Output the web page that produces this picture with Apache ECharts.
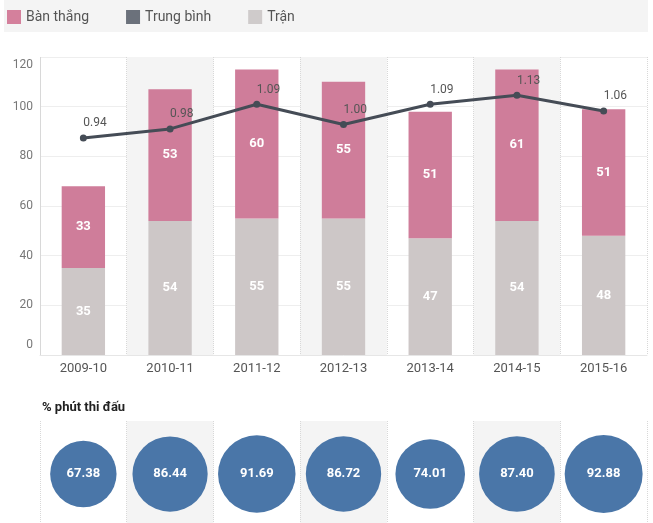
<!DOCTYPE html>
<html>
<head>
<meta charset="utf-8">
<script src="https://cdn.jsdelivr.net/npm/echarts@6/dist/echarts.min.js"></script>
<style>
html,body{margin:0;padding:0;background:#fff;}
#c{width:653px;height:523px;}
</style>
</head>
<body>
<div id="c"></div>
<script>
const seasons = ['2009-10','2010-11','2011-12','2012-13','2013-14','2014-15','2015-16'];
const goals = [33, 53, 60, 55, 51, 61, 51];
const matches = [35, 54, 55, 55, 47, 54, 48];
const average = [0.94, 0.98, 1.09, 1.00, 1.09, 1.13, 1.06];
const minutesPct = [67.38, 86.44, 91.69, 86.72, 74.01, 87.40, 92.88];
const yTicks = [0, 20, 40, 60, 80, 100, 120];

const FONT = 'Roboto, "Noto Sans", sans-serif';
const chart = echarts.init(document.getElementById('c'), null, {renderer: 'canvas'});

const splitAreaX = {show: true, areaStyle: {color: ['rgba(255,255,255,0)', '#f4f4f4']}};
const splitLineX = {show: true, lineStyle: {color: '#d8d8d8', type: 'dotted', width: 1}};

chart.setOption({
  animation: false,
  textStyle: {fontFamily: FONT},
  graphic: [{
    type: 'rect', left: 4, top: 0, z: -10,
    shape: {width: 644, height: 32},
    style: {fill: '#f4f4f4'}
  }],
  title: {
    text: '% phút thi đấu', left: 37, top: 396,
    textStyle: {fontSize: 13, fontWeight: 'bold', color: '#222', fontFamily: FONT}
  },
  legend: {
    left: 7, top: 10, padding: 0, itemWidth: 14, itemHeight: 14, itemGap: 37,
    icon: 'rect',
    textStyle: {fontSize: 14, color: '#555', fontFamily: FONT},
    data: [
      {name: 'Bàn thắng', itemStyle: {color: '#d4809c'}},
      {name: 'Trung bình', itemStyle: {color: '#6b717b'}},
      {name: 'Trận', itemStyle: {color: '#cfcbcb'}}
    ],
    selectedMode: false
  },
  grid: [
    {left: 40, right: 6, top: 57, bottom: 168},
    {left: 40, right: 6, top: 421, bottom: 0}
  ],
  xAxis: [
    {
      type: 'category', gridIndex: 0, data: seasons,
      axisLine: {lineStyle: {color: '#e6e6e6'}},
      axisTick: {show: false},
      axisLabel: {color: '#555', fontSize: 13, margin: 7, fontFamily: FONT},
      splitArea: splitAreaX, splitLine: splitLineX
    },
    {
      type: 'category', gridIndex: 1, data: seasons, position: 'top',
      axisLine: {lineStyle: {color: '#cccccc'}},
      axisTick: {show: false},
      axisLabel: {show: false},
      splitArea: splitAreaX, splitLine: splitLineX
    }
  ],
  yAxis: [
    {
      type: 'value', gridIndex: 0, min: 0, max: 120, interval: 20,
      axisLine: {show: true, lineStyle: {color: '#d8d8d8', type: 'dotted'}},
      axisTick: {show: false},
      splitLine: {lineStyle: {color: '#eeeeee'}},
      axisLabel: {
        color: '#777', fontSize: 12, margin: 7, fontFamily: FONT,
        formatter: function (v) {
          if (v === yTicks[yTicks.length - 1]) return '{b|' + v + '}';
          if (v === yTicks[0]) return '{t|' + v + '}';
          return v;
        },
        rich: {
          b: {padding: [16, 0, 0, 0], color: '#777', fontSize: 12},
          t: {padding: [0, 0, 20, 0], color: '#777', fontSize: 12}
        }
      }
    },
    {
      type: 'value', gridIndex: 0, min: -0.026, max: 1.30, show: false,
      splitLine: {show: false}
    },
    {
      type: 'value', gridIndex: 1, min: 0, max: 1, show: false,
      splitLine: {show: false}
    }
  ],
  series: [
    {
      name: 'Trận', type: 'bar', stack: 'total', xAxisIndex: 0, yAxisIndex: 0,
      data: matches, barWidth: '50%',
      itemStyle: {color: '#cdc7c7'},
      label: {show: true, position: 'inside', color: '#fff', fontWeight: 'bold', fontSize: 13, fontFamily: FONT}
    },
    {
      name: 'Bàn thắng', type: 'bar', stack: 'total', xAxisIndex: 0, yAxisIndex: 0,
      data: goals, barWidth: '50%',
      itemStyle: {color: '#cf7d9a'},
      label: {show: true, position: 'inside', color: '#fff', fontWeight: 'bold', fontSize: 13, fontFamily: FONT}
    },
    {
      name: 'Trung bình', type: 'line', xAxisIndex: 0, yAxisIndex: 1,
      data: average, symbol: 'circle', symbolSize: 7,
      lineStyle: {color: '#454c56', width: 3},
      itemStyle: {color: '#454c56'},
      label: {
        show: true, position: 'top', align: 'left', distance: 5,
        color: '#555', fontSize: 12, fontFamily: FONT,
        formatter: p => p.value.toFixed(2)
      },
      z: 5
    },
    {
      name: '% phút', type: 'scatter', xAxisIndex: 1, yAxisIndex: 2,
      data: minutesPct.map((v, i) => [i, 0.48, v]),
      symbolSize: d => 8.09 * Math.sqrt(d[2]),
      itemStyle: {color: '#4a76a8', opacity: 1},
      label: {
        show: true, position: 'inside', color: '#fff', fontWeight: 'bold', fontSize: 13, fontFamily: FONT,
        formatter: p => p.value[2].toFixed(2)
      }
    }
  ]
});
</script>
</body>
</html>
